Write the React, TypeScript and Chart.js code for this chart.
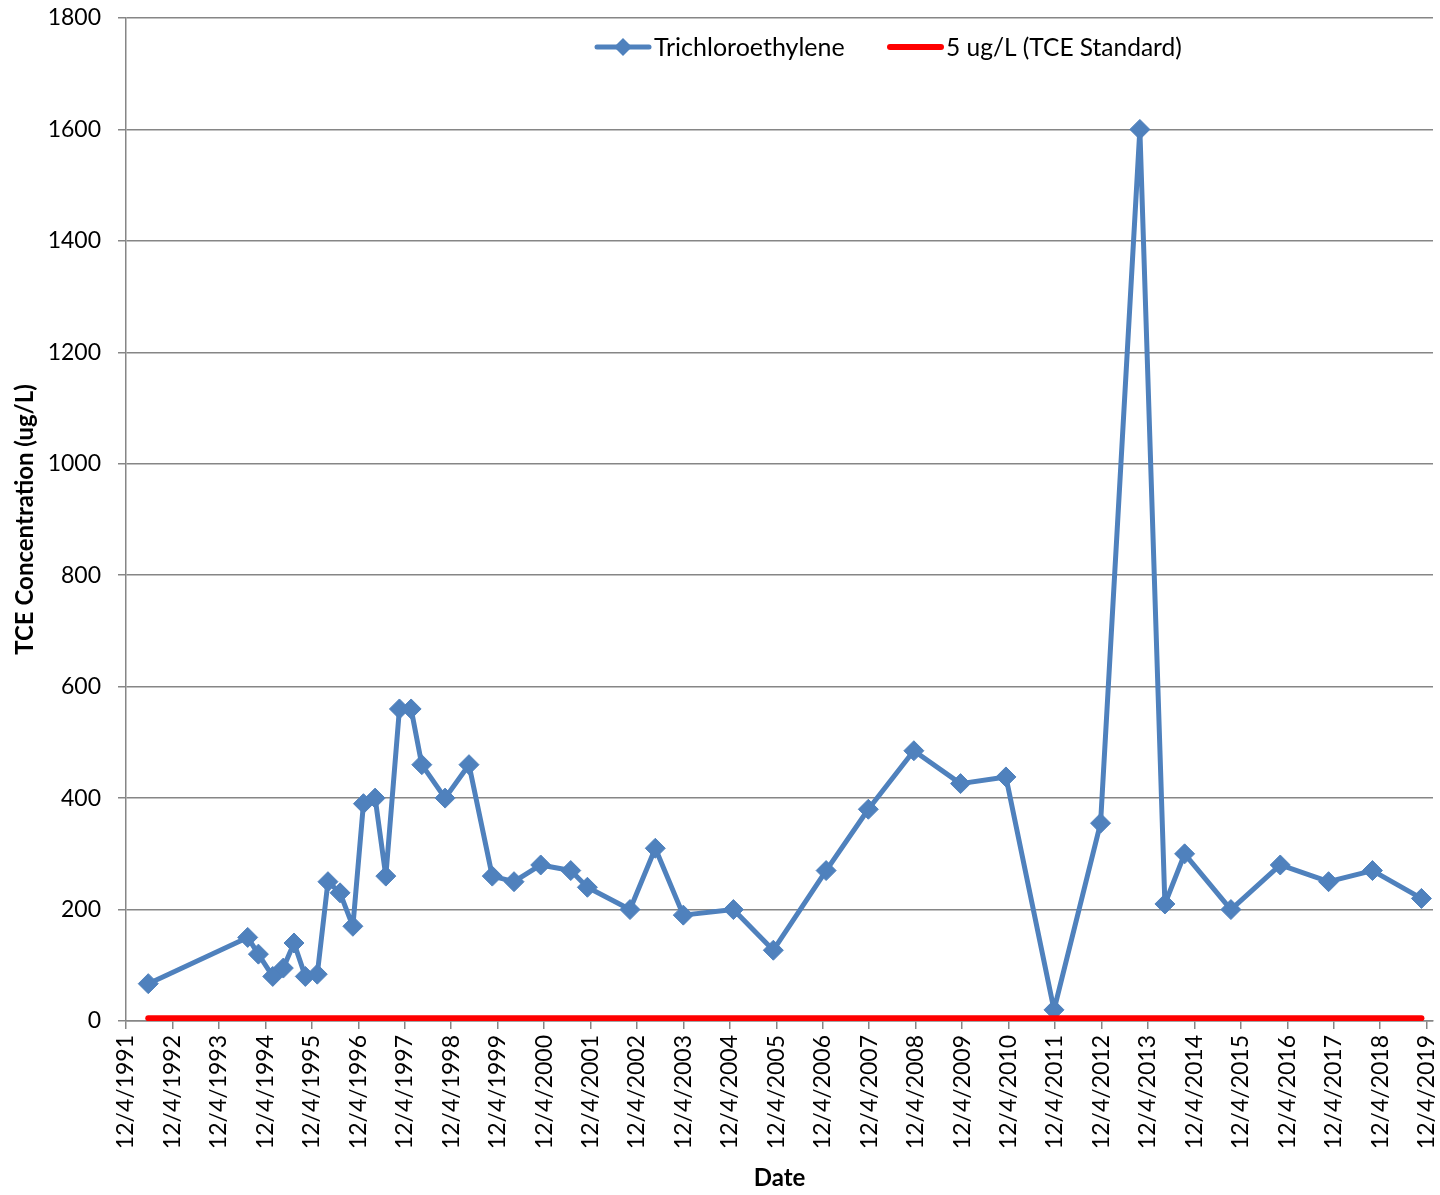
import React, { useEffect, useRef } from "react";
import { Chart, registerables } from "chart.js";

Chart.register(...registerables);

// ---- Data ----
const sampleDates = [
  "1992-05-27", "1994-07-18", "1994-10-10", "1995-01-31", "1995-04-24",
  "1995-07-17", "1995-10-14", "1996-01-16", "1996-04-09", "1996-07-13",
  "1996-10-22", "1997-01-13", "1997-04-15", "1997-07-08", "1997-10-23",
  "1998-01-23", "1998-04-17", "1998-10-17", "1999-04-23", "1999-10-23",
  "2000-04-11", "2000-11-07", "2001-07-01", "2001-11-09", "2002-10-10",
  "2003-04-27", "2003-12-03", "2004-12-31", "2005-11-10", "2006-12-30",
  "2007-11-27", "2008-11-19", "2009-11-21", "2010-11-13", "2011-11-26",
  "2012-11-26", "2013-10-01", "2014-04-16", "2014-09-18", "2015-09-17",
  "2016-10-09", "2017-10-24", "2018-10-04", "2019-10-24",
];

const tceValues = [
  67, 150, 120, 80, 95,
  140, 80, 84, 250, 230,
  170, 390, 400, 260, 560,
  560, 460, 400, 460, 260,
  250, 280, 270, 240, 200,
  310, 190, 200, 127, 270,
  380, 485, 426, 438, 20,
  355, 1600, 210, 300, 200,
  280, 250, 270, 220,
];

const standardDates = ["1992-05-27", "2019-10-24"];
const standardValues = [5, 5];

const tickLabels = [
  "12/4/1991", "12/4/1992", "12/4/1993", "12/4/1994", "12/4/1995",
  "12/4/1996", "12/4/1997", "12/4/1998", "12/4/1999", "12/4/2000",
  "12/4/2001", "12/4/2002", "12/4/2003", "12/4/2004", "12/4/2005",
  "12/4/2006", "12/4/2007", "12/4/2008", "12/4/2009", "12/4/2010",
  "12/4/2011", "12/4/2012", "12/4/2013", "12/4/2014", "12/4/2015",
  "12/4/2016", "12/4/2017", "12/4/2018", "12/4/2019",
];
const xAxisEnd = "2020-01-23";

const yMin = 0;
const yMax = 1800;
const yStep = 200;

const seriesNames = ["Trichloroethylene", "5 ug/L (TCE Standard)"];
const xTitle = "Date";
const yTitle = "TCE Concentration (ug/L)";

// ---- Helpers ----
const isoToDay = (s: string) => {
  const [y, m, d] = s.split("-").map(Number);
  return Date.UTC(y, m - 1, d) / 86400000;
};
const mdyToDay = (s: string) => {
  const [m, d, y] = s.split("/").map(Number);
  return Date.UTC(y, m - 1, d) / 86400000;
};

const FONT = "Lato, 'Liberation Sans', sans-serif";
const BLUE = "#4F81BD";
const RED = "#FF0000";
const GRID = "#868686";

const legendPlugin = {
  id: "customLegend",
  afterDraw(chart: any) {
    const ctx = chart.ctx as CanvasRenderingContext2D;
    const y = 47;
    ctx.save();
    ctx.lineCap = "round";
    // series 1
    ctx.strokeStyle = BLUE;
    ctx.lineWidth = 5;
    ctx.beginPath();
    ctx.moveTo(597, y);
    ctx.lineTo(649, y);
    ctx.stroke();
    ctx.fillStyle = BLUE;
    ctx.beginPath();
    ctx.moveTo(623, y - 9);
    ctx.lineTo(632, y);
    ctx.lineTo(623, y + 9);
    ctx.lineTo(614, y);
    ctx.closePath();
    ctx.fill();
    ctx.fillStyle = "#000";
    ctx.font = `25px ${FONT}`;
    ctx.textBaseline = "middle";
    ctx.textAlign = "left";
    ctx.fillText(seriesNames[0], 654, y + 1);
    // series 2
    ctx.strokeStyle = RED;
    ctx.lineWidth = 6;
    ctx.beginPath();
    ctx.moveTo(890, y);
    ctx.lineTo(941, y);
    ctx.stroke();
    ctx.font = `24.5px ${FONT}`;
    ctx.fillText(seriesNames[1], 946, y + 1);
    ctx.restore();
  },
};

export default function App() {
  const canvasRef = useRef<HTMLCanvasElement | null>(null);

  useEffect(() => {
    if (!canvasRef.current) return;
    const tickValues = tickLabels.map(mdyToDay);
    const chart = new Chart(canvasRef.current, {
      type: "line",
      data: {
        datasets: [
          {
            label: seriesNames[0],
            data: sampleDates.map((d, i) => ({ x: isoToDay(d), y: tceValues[i] })),
            borderColor: BLUE,
            backgroundColor: BLUE,
            borderWidth: 5,
            pointStyle: "rectRot",
            pointRadius: 10,
            pointBorderWidth: 1,
            pointBorderColor: BLUE,
            pointBackgroundColor: BLUE,
            tension: 0,
            order: 2,
            borderJoinStyle: "round",
          },
          {
            label: seriesNames[1],
            data: standardDates.map((d, i) => ({ x: isoToDay(d), y: standardValues[i] })),
            borderColor: RED,
            backgroundColor: RED,
            borderWidth: 6,
            borderCapStyle: "round",
            pointRadius: 0,
            tension: 0,
            order: 1,
          },
        ],
      },
      options: {
        animation: false,
        responsive: false,
        devicePixelRatio: 1,
        layout: { autoPadding: false, padding: { top: 18, right: 7, bottom: 0, left: 0 } },
        plugins: {
          legend: { display: false },
          tooltip: { enabled: false },
        },
        scales: {
          x: {
            type: "linear",
            min: tickValues[0],
            max: isoToDay(xAxisEnd),
            afterBuildTicks: (scale: any) => {
              scale.ticks = tickValues.map((v) => ({ value: v }));
            },
            afterFit: (scale: any) => {
              scale.height = 174;
              scale.paddingLeft = 0;
              scale.paddingRight = 0;
            },
            ticks: {
              autoSkip: false,
              minRotation: 90,
              maxRotation: 90,
              padding: 6,
              color: "#000",
              font: { family: FONT, size: 23 },
              callback: (_v: any, i: number) => tickLabels[i],
            },
            grid: {
              drawOnChartArea: false,
              drawTicks: true,
              tickLength: 8,
              color: GRID,
              lineWidth: 1.5,
            },
            border: { color: GRID, width: 1.5 },
            title: {
              display: true,
              text: xTitle,
              color: "#000",
              font: { family: FONT, size: 24, weight: "bold" },
              padding: { top: 0, bottom: 2 },
            },
          },
          y: {
            min: yMin,
            max: yMax,
            afterFit: (scale: any) => {
              scale.width = 126;
              scale.paddingTop = 0;
              scale.paddingBottom = 0;
            },
            ticks: {
              stepSize: yStep,
              padding: 17,
              color: "#000",
              font: { family: FONT, size: 23 },
              callback: (v: any) => String(v),
            },
            grid: {
              color: GRID,
              lineWidth: 1.5,
              tickLength: 8,
            },
            border: { color: GRID, width: 1.5 },
            title: {
              display: true,
              text: yTitle,
              color: "#000",
              font: { family: FONT, size: 24, weight: "bold" },
              padding: { top: 11, bottom: 0 },
            },
          },
        },
      },
      plugins: [legendPlugin],
    } as any);
    return () => chart.destroy();
  }, []);

  return (
    <div style={{ position: "absolute", left: 0, top: 0, width: 1440, height: 1195, background: "#fff" }}>
      <canvas ref={canvasRef} width={1440} height={1195} style={{ width: 1440, height: 1195, display: "block" }} />
    </div>
  );
}
